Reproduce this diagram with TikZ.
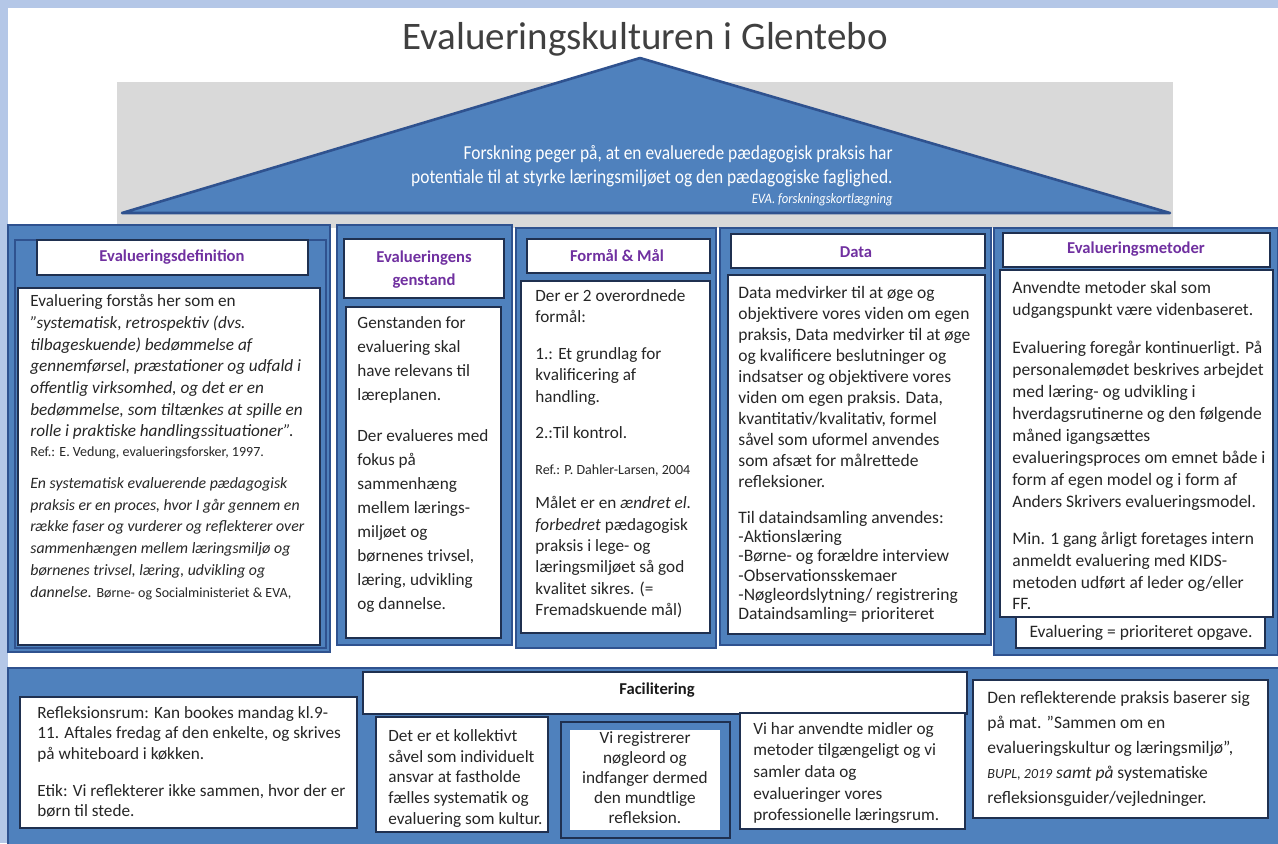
\documentclass[tikz,border=0pt]{standalone}
\usepackage{fontspec}
\setmainfont{Carlito}
\newfontfamily\condfont[FakeStretch=0.88]{Carlito}
\definecolor{lblue}{HTML}{B4C7E7}
\definecolor{pblue}{HTML}{4F81BD}
\definecolor{pdark}{HTML}{2F528F}
\definecolor{bdark}{HTML}{1F3050}
\definecolor{gbg}{HTML}{D9D9D9}
\definecolor{purp}{HTML}{7030A0}
\definecolor{txt}{HTML}{262626}
\tikzset{
  panel/.style={fill=pblue, draw=pdark, line width=1pt},
  wbox/.style={fill=white, draw=bdark, line width=0.7pt},
  body/.style={anchor=north west, inner sep=0pt, align=left, text=txt, font=\fontsize{8.6}{#1}\selectfont},
  body/.default=11,
  bodyb/.style={anchor=north west, inner sep=0pt, align=left, text=txt, font=\fontsize{8.75}{#1}\selectfont},
  small/.style={anchor=north west, inner sep=0pt, align=left, text=txt, font=\fontsize{7}{9}\selectfont},
  head/.style={inner sep=0pt, text=purp, align=center, font=\bfseries\fontsize{8.3}{11.5}\selectfont},
}
\begin{document}
\begin{tikzpicture}[x=0.5pt,y=-0.5pt]
\useasboundingbox (0,0) rectangle (1278,843);
\fill[lblue] (0,0) rectangle (1278,843);
\fill[white] (8,8) rectangle (1278,843);
% title
\node[inner sep=0pt, text=black!75, font=\fontsize{19.5}{22}\selectfont] (title) at (645,39) {Evalueringskulturen i Glentebo};
% roof
\fill[gbg] (117,82) rectangle (1173,228);
\draw[fill=pblue, draw=pdark, line width=1.3pt, line join=round] (640,58) -- (1170,213) -- (122,213) -- cycle;
\node[anchor=north east, inner sep=0pt, align=right, text=white, font=\condfont\fontsize{9.9}{12}\selectfont] (roof) at (893,145)
  {Forskning peger på, at en evaluerede pædagogisk praksis har\\potentiale til at styrke læringsmiljøet og den pædagogiske faglighed.};
\node[anchor=east, inner sep=0pt, text=white, font=\condfont\itshape\fontsize{7.2}{8}\selectfont] (roofref) at (893,200) {EVA. forskningskortlægning};

% column 1
\path[panel] (8,225) rectangle (330,652);
\path[panel] (15,240) rectangle (326,648);
\path[wbox] (37,240) rectangle (308,275);
\path[wbox] (18,288) rectangle (320,645);
\node[head] (h1) at (172,257) {Evalueringsdefinition};
\node[body=10.85] (c1a) at (30,294) {Evaluering forstås her som en\\
\textit{”systematisk, retrospektiv (dvs.}\\
\textit{tilbageskuende) bedømmelse af}\\
\textit{gennemførsel, præstationer og udfald i}\\
\textit{offentlig virksomhed, og det er en}\\
\textit{bedømmelse, som tiltænkes at spille en}\\
\textit{rolle i praktiske handlingssituationer”.}};
\node[small] (c1ref) at (30,446) {Ref.: E. Vedung, evalueringsforsker, 1997.};
\node[anchor=north west, inner sep=0pt, align=left, text=txt, font=\fontsize{7.9}{10.9}\selectfont] (c1b) at (30,477) {\textit{En systematisk evaluerende pædagogisk}\\
\textit{praksis er en proces, hvor I går gennem en}\\
\textit{række faser og vurderer og reflekterer over}\\
\textit{sammenhængen mellem læringsmiljø og}\\
\textit{børnenes trivsel, læring, udvikling og}\\
\textit{dannelse.} {\fontsize{7}{9}\selectfont Børne- og Socialministeriet \& EVA,}};

% column 2
\path[panel] (337,225) rectangle (512,645);
\path[wbox] (344,239) rectangle (504,298);
\path[wbox] (346,307) rectangle (501,638);
\node[head] (h2) at (424,269.5) {Evalueringens\\genstand};
\node[body=12] (c2a) at (357,316) {Genstanden for\\evaluering skal\\have relevans til\\læreplanen.};
\node[body=12] (c2b) at (357,429) {Der evalueres med\\fokus på\\sammenhæng\\mellem lærings-\\miljøet og\\børnenes trivsel,\\læring, udvikling\\og dannelse.};

% column 3
\path[panel] (516,228) rectangle (716,648);
\path[wbox] (527,239) rectangle (710,273);
\path[wbox] (521,281) rectangle (710,633);
\node[head] (h3) at (617,256) {Formål \& Mål};
\node[body=10.75] (c3a) at (535,289) {Der er 2 overordnede\\formål:};
\node[body=10.75] (c3b) at (535,347) {1.: Et grundlag for\\kvalificering af\\handling.};
\node[body=10.75] (c3c) at (535,426) {2.:Til kontrol.};
\node[small] (c3ref) at (535,464) {Ref.: P. Dahler-Larsen, 2004};
\node[body=10.7] (c3d) at (535,496) {Målet er en \textit{ændret el.}\\\textit{forbedret} pædagogisk\\praksis i lege- og\\læringsmiljøet så god\\kvalitet sikres. (=\\Fremadskuende mål)};

% column 4
\path[panel] (720,228) rectangle (991,645);
\path[wbox] (731,234) rectangle (985,268);
\path[wbox] (728,275) rectangle (985,634);
\node[head] (h4) at (856,252) {Data};
\node[bodyb=10.5] (c4a) at (738,286) {Data medvirker til at øge og\\objektivere vores viden om egen\\praksis, Data medvirker til at øge\\og kvalificere beslutninger og\\indsatser og objektivere vores\\viden om egen praksis. Data,\\kvantitativ/kvalitativ, formel\\såvel som uformel anvendes\\som afsæt for målrettede\\refleksioner.};
\node[bodyb=9.6] (c4b) at (738,511) {Til dataindsamling anvendes:\\-Aktionslæring\\-Børne- og forældre interview\\-Observationsskemaer\\-Nøgleordslytning/ registrering\\Dataindsamling= prioriteret};

% column 5
\path[panel] (994,228) rectangle (1278,655);
\path[wbox] (1003,233) rectangle (1270,267);
\path[wbox] (1016,612) rectangle (1265,648);
\path[wbox] (1000,270) rectangle (1273,617);
\node[head] (h5) at (1136,249) {Evalueringsmetoder};
\node[bodyb=11] (c5a) at (1012,281) {Anvendte metoder skal som\\udgangspunkt være videnbaseret.};
\node[bodyb=11] (c5b) at (1012,341) {Evaluering foregår kontinuerligt. På\\personalemødet beskrives arbejdet\\med læring- og udvikling i\\hverdagsrutinerne og den følgende\\måned igangsættes\\evalueringsproces om emnet både i\\form af egen model og i form af\\Anders Skrivers evalueringsmodel.};
\node[bodyb=10.85] (c5c) at (1012,532) {Min. 1 gang årligt foretages intern\\anmeldt evaluering med KIDS-\\metoden udført af leder og/eller\\FF.};
\node[inner sep=0pt, text=txt, font=\fontsize{8.75}{11}\selectfont] (c5d) at (1141,633) {Evaluering = prioriteret opgave.};

% bottom
\path[panel] (8,668) rectangle (1280,845);
\path[wbox] (363,672) rectangle (967,714);
\node[inner sep=0pt, text=black!90, font=\bfseries\fontsize{8.3}{11}\selectfont] (fac) at (657,690) {Facilitering};
\path[wbox] (20,697) rectangle (357,828);
\node[body=10.25] (ba1) at (37,706) {Refleksionsrum: Kan bookes mandag kl.9-\\11. Aftales fredag af den enkelte, og skrives\\på whiteboard i køkken.};
\node[body=10] (ba2) at (37,784) {Etik: Vi reflekterer ikke sammen, hvor der er\\børn til stede.};
\path[wbox] (376,717) rectangle (548,832);
\node[body=10.4] (bb) at (388,729) {Det er et kollektivt\\såvel som individuelt\\ansvar at fastholde\\fælles systematik og\\evaluering som kultur.};
\path[panel, draw=bdark, line width=0.7pt] (561,722) rectangle (730,838);
\path[fill=white] (570,730) rectangle (720,830);
\node[body=10, anchor=north, align=center] (bc) at (645,731) {Vi registrerer\\nøgleord og\\indfanger dermed\\den mundtlige\\refleksion.};
\path[wbox] (740,713) rectangle (965,829);
\node[body=10.8] (bd) at (753,722) {Vi har anvendte midler og\\metoder tilgængeligt og vi\\samler data og\\evalueringer vores\\professionelle læringsrum.};
\path[wbox] (973,680) rectangle (1268,818);
\node[bodyb=12.5] (be) at (987,691) {Den reflekterende praksis baserer sig\\på mat. ”Sammen om en\\evalueringskultur og læringsmiljø”,\\{\fontsize{7}{9}\selectfont\itshape BUPL, 2019} \textit{samt på} systematiske\\refleksionsguider/vejledninger.};
\end{tikzpicture}
\end{document}
